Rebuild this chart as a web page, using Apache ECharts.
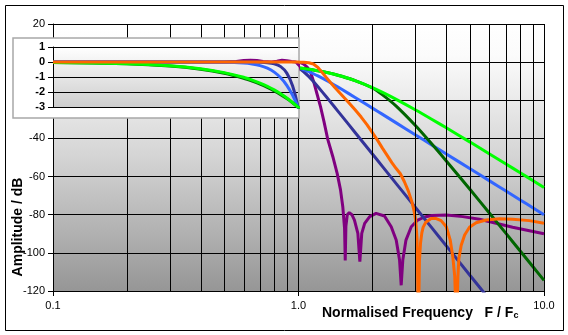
<!DOCTYPE html>
<html>
<head>
<meta charset="utf-8">
<script src="https://cdn.jsdelivr.net/npm/echarts@6/dist/echarts.min.js"></script>
<style>
  html, body { margin: 0; padding: 0; background: #ffffff; }
  #chart { width: 568px; height: 335px; }
</style>
</head>
<body>
<div id="chart"></div>
<script>
// Low-pass filter magnitude responses against normalised frequency F / Fc.

// Shared frequency points for the Bessel and Butterworth responses
const freqGrid = [0.1, 0.2, 0.3, 0.4, 0.5, 0.6, 0.65, 0.7, 0.75, 0.8, 0.85, 0.9, 0.95, 1.0,
  1.05, 1.1, 1.15, 1.2, 1.3, 1.4, 1.5, 1.7, 2.0, 2.2, 2.5, 3.0, 3.5, 4.0, 5.0, 6.0, 7.0, 8.0, 9.0, 10.0];

// 4th-order Bessel (bright green)
const bessel4Db = [-0.03, -0.11, -0.25, -0.45, -0.71, -1.02, -1.21, -1.41, -1.62, -1.86, -2.12, -2.40, -2.70, -3.01,
  -3.35, -3.71, -4.10, -4.51, -5.39, -6.38, -7.42, -9.72, -13.40, -15.89, -19.52, -25.09, -30.04, -34.43, -41.92, -48.12, -53.40, -57.99, -62.04, -65.68];

// 8th-order Bessel (dark green)
const bessel8Db = [-0.03, -0.12, -0.27, -0.48, -0.75, -1.08, -1.27, -1.47, -1.69, -1.93, -2.18, -2.44, -2.72, -3.01,
  -3.34, -3.70, -4.08, -4.50, -5.38, -6.37, -7.42, -9.72, -13.55, -17.18, -23.09, -33.39, -43.07, -51.82, -66.81, -79.23, -89.81, -99.0, -107.13, -114.4];

// 4th-order Butterworth (light blue)
const butter4Db = [0, 0, 0, -0.003, -0.017, -0.072, -0.136, -0.243, -0.414, -0.674, -1.054, -1.555, -2.21, -3.01,
  -3.94, -4.97, -6.08, -7.24, -9.62, -11.98, -14.25, -18.50, -24.10, -27.40, -31.84, -38.17, -43.53, -48.16, -55.92, -62.25, -67.61, -72.25, -76.34, -80.0];

// 8th-order Butterworth (navy)
const butter8Db = [0, 0, 0, 0, 0, -0.001, -0.004, -0.014, -0.043, -0.12, -0.311, -0.739, -1.584, -3.01,
  -5.03, -7.48, -10.15, -12.90, -18.30, -23.40, -28.18, -36.87, -48.16, -54.79, -63.67, -76.34, -87.05, -96.33, -111.84, -124.5, -135.2, -144.5, -152.7, -160.0];

// Inverse Chebyshev (orange)
const chebyFreq = [0.1, 1.0, 1.05, 1.1, 1.15, 1.2, 1.25, 1.3, 1.35, 1.4, 1.5, 1.6, 1.7, 1.8, 1.9, 2.0, 2.1, 2.2, 2.3, 2.4,
  2.5, 2.6, 2.7, 2.8, 2.9, 2.95, 3.0, 3.04, 3.08, 3.11, 3.14, 3.18, 3.22, 3.3, 3.47, 3.64, 3.81, 4.0, 4.15, 4.25,
  4.33, 4.4, 4.46, 4.5, 4.6, 4.75, 4.97, 5.29, 5.81, 6.58, 7.45, 8.72, 10.0];
const chebyDb = [0, 0, -0.05, -0.3, -1.0, -2.8, -5.5, -8.2, -10.7, -13.0, -17.2, -21.2, -25.0, -28.8, -32.8, -37.0, -41.0, -45.2, -49.0, -52.7,
  -55.8, -58.5, -62.7, -67.5, -73.5, -77.5, -82.5, -93, -140, -104, -95, -89.5, -86.5, -84, -82, -82, -83.1, -86.3, -93.3, -102,
  -112.5, -140, -112.5, -103, -96, -90.6, -86.6, -84.2, -82.8, -82.1, -82.4, -83.1, -84.5];

// Elliptic (purple)
const ellipticFreq = [0.1, 0.5, 0.56, 0.6, 0.64, 0.68, 0.72, 0.78, 0.82, 0.86, 0.9, 0.94, 0.98, 1.02, 1.05, 1.085, 1.12, 1.155,
  1.19, 1.23, 1.27, 1.316, 1.38, 1.437, 1.483, 1.515, 1.54, 1.55, 1.56, 1.58, 1.61, 1.65, 1.69, 1.745, 1.778, 1.81, 1.86,
  1.95, 2.07, 2.24, 2.386, 2.5, 2.58, 2.62, 2.66, 2.74, 2.88, 3.06, 3.26, 3.5, 4.0, 4.67, 5.46, 6.38, 7.45, 8.72, 10.0];
const ellipticDb = [0, 0, 0.04, 0.1, 0.12, 0.1, 0.04, 0, 0.05, 0.11, 0.09, 0.03, 0, -0.3, -1.0, -2.6, -5.3, -10.6,
  -16.7, -23.5, -31.2, -40.5, -49.6, -58.3, -67.0, -75.8, -87, -104, -86, -80, -78.9, -80, -82.8, -89.8, -104.6, -89.8, -84.5,
  -81.0, -79.3, -80.7, -86.3, -93.3, -103.8, -117, -103.8, -93.3, -86.3, -82.8, -81.2, -80.4, -80.2, -81.0, -82.4, -84.5, -86.6, -88.4, -90];

// Minor log gridlines
const minorFreqs = [0.2, 0.3, 0.4, 0.5, 0.6, 0.7, 0.8, 0.9, 2, 3, 4, 5, 6, 7, 8, 9];
const insetMinorFreqs = [0.2, 0.3, 0.4, 0.5, 0.6, 0.7, 0.8, 0.9];

const FONT = "'Liberation Sans', Arial, sans-serif";
const pairs = (f, d) => f.map((x, i) => [x, d[i]]);

// Drawing order: later entries sit on top
const curves = [
  { name: 'Elliptic', color: '#800080', f: ellipticFreq, d: ellipticDb, smooth: false },
  { name: 'Butterworth 8', color: '#333399', f: freqGrid, d: butter8Db, smooth: 0.25 },
  { name: 'Butterworth 4', color: '#3366ff', f: freqGrid, d: butter4Db, smooth: 0.25 },
  { name: 'Bessel 8', color: '#006600', f: freqGrid, d: bessel8Db, smooth: 0.25 },
  { name: 'Bessel 4', color: '#00ff00', f: freqGrid, d: bessel4Db, smooth: 0.25 },
  { name: 'Inverse Chebyshev', color: '#ff6600', f: chebyFreq, d: chebyDb, smooth: false }
];

function curveSeries(c, inset) {
  return {
    name: c.name, type: 'line',
    xAxisIndex: inset ? 1 : 0, yAxisIndex: inset ? 1 : 0,
    data: pairs(c.f, c.d),
    symbol: 'none', showSymbol: false, smooth: c.smooth, clip: true, silent: true,
    lineStyle: { color: c.color, width: 3 },
    z: inset ? 62 : 3
  };
}

function gridLineSeries(freqs, inset) {
  return {
    type: 'line', data: [], silent: true,
    xAxisIndex: inset ? 1 : 0, yAxisIndex: inset ? 1 : 0,
    z: inset ? 60 : 1,
    markLine: {
      silent: true, symbol: 'none', animation: false,
      label: { show: false },
      lineStyle: { color: '#000', width: 1, type: 'solid' },
      data: freqs.map(v => ({ xAxis: v }))
    }
  };
}

const chart = echarts.init(document.getElementById('chart'));
chart.setOption({
  animation: false,
  backgroundColor: '#ffffff',
  grid: [
    {
      left: 53, right: 24, top: 24, bottom: 44, show: true, borderWidth: 0, z: 0,
      backgroundColor: new echarts.graphic.LinearGradient(0, 0, 0, 1, [
        { offset: 0, color: '#ffffff' }, { offset: 0.12, color: '#fbfbfb' },
        { offset: 0.5, color: '#d4d4d4' }, { offset: 1, color: '#969696' }
      ])
    },
    {
      left: 53, right: 270, top: 47, bottom: 228, show: true, borderWidth: 0, z: 55,
      backgroundColor: new echarts.graphic.LinearGradient(0, 0, 0, 1, [
        { offset: 0, color: '#ffffff' }, { offset: 1, color: '#cdcdcd' }
      ])
    }
  ],
  xAxis: [
    {
      type: 'log', gridIndex: 0, logBase: 10, min: 0.1, max: 10,
      axisLine: { show: true, onZero: false, lineStyle: { color: '#000', width: 1 } },
      axisTick: { show: true, length: 5, lineStyle: { color: '#000' } },
      axisLabel: { fontFamily: FONT, fontSize: 11, color: '#000', margin: 9, formatter: v => Number(v).toFixed(1) },
      splitLine: { show: true, lineStyle: { color: '#000', width: 1 } }
    },
    {
      type: 'log', gridIndex: 1, logBase: 10, min: 0.1, max: 1, z: 61,
      axisLine: { show: true, onZero: false, lineStyle: { color: '#000', width: 1 } },
      axisTick: { show: false }, axisLabel: { show: false }, splitLine: { show: false }
    }
  ],
  yAxis: [
    {
      type: 'value', gridIndex: 0, min: -120, max: 20, interval: 20,
      axisLine: { show: true, onZero: false, lineStyle: { color: '#000', width: 1 } },
      axisTick: { show: true, length: 5, lineStyle: { color: '#000' } },
      axisLabel: { fontFamily: FONT, fontSize: 11, color: '#000', margin: 8 },
      splitLine: { show: true, lineStyle: { color: '#000', width: 1 } }
    },
    {
      type: 'value', gridIndex: 1, min: -3, max: 1, interval: 1, z: 61,
      axisLine: { show: true, onZero: false, lineStyle: { color: '#000', width: 1 } },
      axisTick: { show: true, length: 5, lineStyle: { color: '#000' } },
      axisLabel: { fontFamily: FONT, fontSize: 11, fontWeight: 'bold', color: '#000', margin: 8 },
      splitLine: { show: true, lineStyle: { color: '#000', width: 1 } }
    }
  ],
  graphic: [
    { type: 'rect', z: 0, silent: true, shape: { x: 5.5, y: 5.5, width: 558, height: 325 },
      style: { fill: 'none', stroke: '#000', lineWidth: 1 } },
    { type: 'rect', z: 50, silent: true, shape: { x: 13, y: 38, width: 286, height: 80 },
      style: { fill: '#ffffff', stroke: '#a8a8a8', lineWidth: 1.5 } },
    { type: 'text', z: 70, silent: true, x: 322, y: 320,
      style: {
        text: '{t|Normalised Frequency   F / F}{s|c}', textVerticalAlign: 'bottom', textBaseline: 'bottom',
        rich: {
          t: { fontFamily: FONT, fontSize: 14, fontWeight: 'bold', fill: '#000', lineHeight: 16, verticalAlign: 'bottom' },
          s: { fontFamily: FONT, fontSize: 9, fontWeight: 'bold', fill: '#000', lineHeight: 16, verticalAlign: 'bottom' }
        }
      } },
    { type: 'text', z: 70, silent: true, x: 18.5, y: 227, rotation: Math.PI / 2,
      style: { text: 'Amplitude / dB', fontFamily: FONT, fontSize: 14, fontWeight: 'bold', fill: '#000',
        align: 'center', verticalAlign: 'middle' } }
  ],
  series: [
    gridLineSeries(minorFreqs, false),
    ...curves.map(c => curveSeries(c, false)),
    gridLineSeries(insetMinorFreqs, true),
    ...curves.map(c => curveSeries(c, true))
  ]
});
</script>
</body>
</html>
